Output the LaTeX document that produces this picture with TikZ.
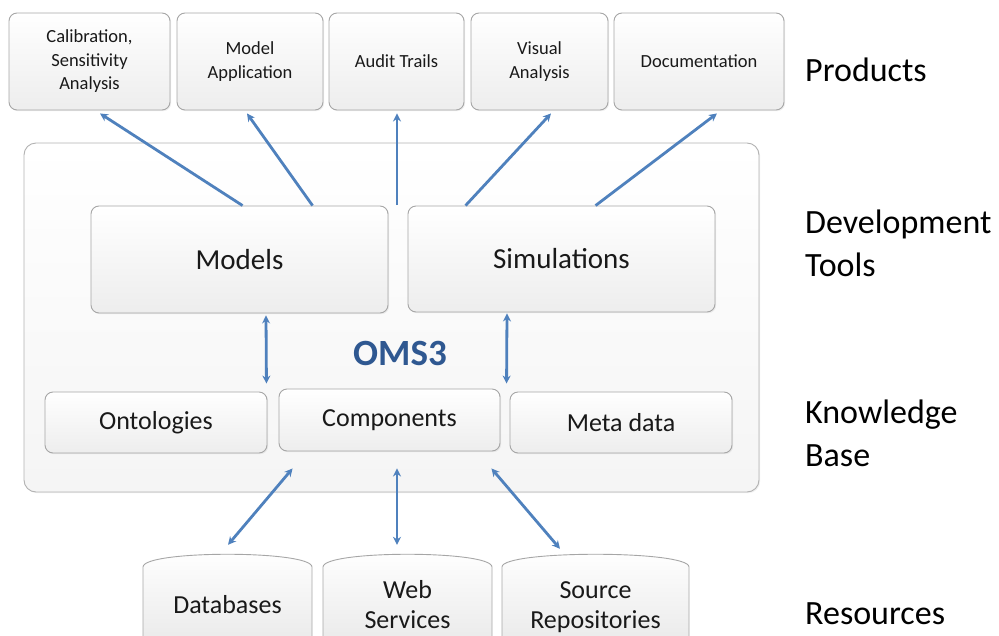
\documentclass[tikz,border=0pt]{standalone}
\usepackage{fontspec}
\setmainfont{Carlito}
\usetikzlibrary{arrows.meta,shadows}
\definecolor{arrowblue}{RGB}{79,129,189}
\definecolor{omsblue}{RGB}{47,88,145}
\begin{document}
\begin{tikzpicture}[x=1pt,y=-1pt,
  box/.style={draw=black!35, line width=0.9pt, rounded corners=8pt, top color=white, bottom color=black!7, inner sep=0pt, align=center, text=black!90,
    drop shadow={opacity=0.12, shadow xshift=1.2pt, shadow yshift=-1.2pt}},
  prod/.style={box, font=\fontsize{18.5}{23.5}\selectfont},
  tool/.style={box, font=\fontsize{29}{34}\selectfont},
  kb/.style={box, font=\fontsize{26}{30}\selectfont},
  container/.style={draw=black!30, line width=0.9pt, rounded corners=12pt, top color=white, bottom color=black!4,
    drop shadow={opacity=0.12, shadow xshift=1.2pt, shadow yshift=-1.2pt}},
  cylshape/.style={draw=black!35, line width=0.9pt, top color=white, bottom color=black!8},
  cyltext/.style={inner sep=0pt, align=center, text=black!90, font=\fontsize{26}{30}\selectfont, minimum height=104pt},
  lab/.style={anchor=west, align=left, inner sep=0pt, text=black, font=\fontsize{34}{43}\selectfont},
  arr/.style={draw=arrowblue, line width=2.8pt, -{Stealth[length=8pt,width=8pt]}},
  darr/.style={draw=arrowblue, line width=2.8pt, {Stealth[length=8pt,width=8pt]}-{Stealth[length=8pt,width=8pt]}}
]
\useasboundingbox (0,0) rectangle (999,635);

% products
\node[prod, minimum width=161pt, minimum height=97pt] (calib) at (89.5,61.5) {Calibration,\\Sensitivity\\Analysis};
\node[prod, minimum width=146pt, minimum height=97pt] (modapp) at (250,61.5) {Model\\Application};
\node[prod, minimum width=135pt, minimum height=97pt] (audit) at (396.5,61.5) {Audit Trails};
\node[prod, minimum width=137pt, minimum height=97pt] (visual) at (539.5,61.5) {Visual\\Analysis};
\node[prod, minimum width=170pt, minimum height=97pt] (doc) at (699,61.5) {Documentation};

% container
\node[container, minimum width=735pt, minimum height=349pt] (oms) at (391.5,317.5) {};

% development tools
\node[tool, minimum width=297pt, minimum height=107pt] (models) at (239.5,259.5) {Models};
\node[tool, minimum width=307pt, minimum height=106pt] (sims) at (561.5,259) {Simulations};

% knowledge base
\node[kb, minimum width=222pt, minimum height=61pt] (onto) at (156,422.5) {Ontologies};
\node[kb, minimum width=221pt, minimum height=62pt] (comp) at (389.5,420) {Components};
\node[kb, minimum width=222pt, minimum height=61pt] (meta) at (621,422.5) {Meta data};

\node[font=\fontsize{37}{42}\selectfont\bfseries, text=omsblue, inner sep=0pt] (omslabel) at (400,353) {OMS3};

% resources (cylinders)
\path[cylshape] (143,640) -- (143,567) .. controls (143,550) and (312,550) .. (312,567) -- (312,640);
\path[cylshape] (323,640) -- (323,567) .. controls (323,550) and (492,550) .. (492,567) -- (492,640);
\path[cylshape] (502,640) -- (502,567) .. controls (502,550) and (689,550) .. (689,567) -- (689,640);
\node[cyltext, minimum width=169pt] (db) at (227.5,605) {Databases};
\node[cyltext, minimum width=169pt] (web) at (407.5,605) {Web\\Services};
\node[cyltext, minimum width=187pt] (src) at (595.5,607) {Source\\Repositories};

% layer labels
\node[lab] (products) at (805,70) {Products};
\node[lab] (devtools) at (805,243) {Development\\Tools};
\node[lab] (knowledge) at (805,433.5) {Knowledge\\Base};
\node[lab] (resources) at (805,614) {Resources};

% arrows to products
\coordinate (auditsrc) at (397,205);
\draw[arr] ([xshift=152pt]models.north west) -- ([xshift=10.5pt,yshift=-3pt]calib.south);
\draw[arr] ([xshift=222pt]models.north west) -- ([xshift=-3pt,yshift=-3pt]modapp.south);
\draw[arr] (auditsrc) -- ([xshift=0.5pt,yshift=-3pt]audit.south);
\draw[arr] ([xshift=58pt]sims.north west) -- ([xshift=11.5pt,yshift=-3pt]visual.south);
\draw[arr] ([xshift=188pt]sims.north west) -- ([xshift=18pt,yshift=-3pt]doc.south);

% tools <-> knowledge base
\draw[darr] ([xshift=26.5pt,yshift=-2pt]models.south) -- ([xshift=-1pt,yshift=8pt]onto.north east);
\draw[darr] ([xshift=-54.5pt,yshift=-1pt]sims.south) -- ([xshift=-3pt,yshift=8pt]meta.north west);

% resources <-> components
\draw[darr] ([xshift=0.5pt,yshift=8pt]db.north) -- ([xshift=14pt,yshift=-17pt]comp.south west);
\draw[darr] ([xshift=-10.5pt,yshift=8pt]web.north) -- ([xshift=7.5pt,yshift=-17pt]comp.south);
\draw[darr] ([xshift=-35.5pt,yshift=6pt]src.north) -- ([xshift=-9pt,yshift=-17pt]comp.south east);
\end{tikzpicture}
\end{document}
